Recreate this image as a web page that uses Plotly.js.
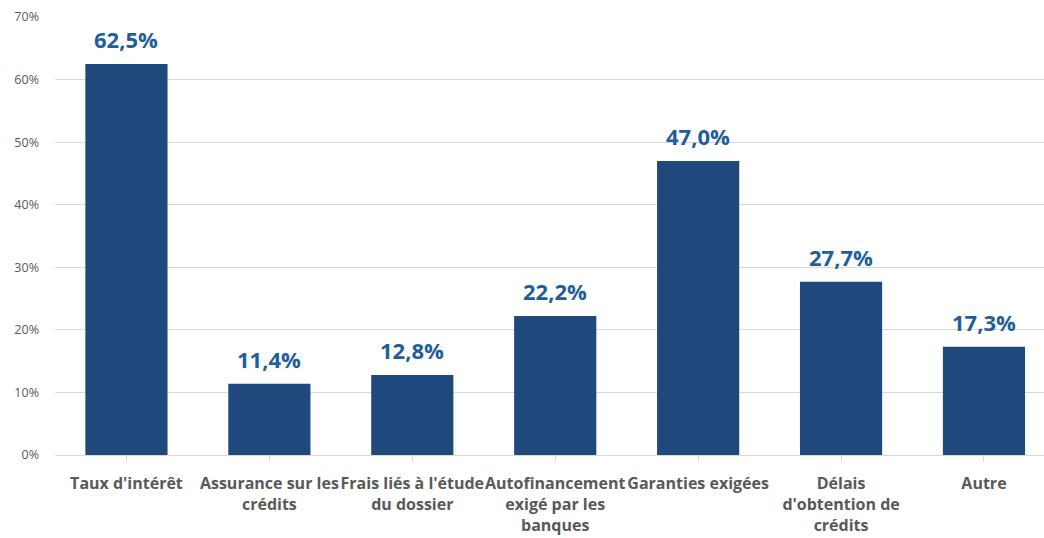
<!DOCTYPE html>
<html>
<head>
<meta charset="utf-8">
<script src="https://cdn.plot.ly/plotly-3.0.1.min.js"></script>
<style>html,body{margin:0;padding:0;background:#fff;}#chart{width:1044px;height:538px;}</style>
</head>
<body>
<div id="chart"></div>
<script>
const categories = ["Taux d'intérêt", "Assurance sur les<br>crédits", "Frais liés à l'étude<br>du dossier", "Autofinancement<br>exigé par les<br>banques", "Garanties exigées", "Délais<br>d'obtention de<br>crédits", "Autre"];
const values = [62.5, 11.4, 12.8, 22.2, 47.0, 27.7, 17.3];
const yTicks = [0, 10, 20, 30, 40, 50, 60, 70];

const labelText = values.map(v => v.toFixed(1).replace('.', ',') + '%');
const xIdx = categories.map((c, i) => i);

const trace = {
  type: 'bar',
  x: xIdx,
  y: values,
  width: 0.575,
  marker: {color: '#1F497D'},
  hoverinfo: 'none'
};

const annotations = values.map((v, i) => ({
  x: i, y: v, xref: 'x', yref: 'y',
  text: labelText[i],
  showarrow: false,
  yanchor: 'bottom',
  yshift: 8,
  font: {family: "'Open Sans', sans-serif", size: 22, color: '#1F5E9C', weight: 'bold'}
}));

const layout = {
  width: 1044, height: 538,
  margin: {l: 55, r: 0, t: 17, b: 83},
  paper_bgcolor: '#ffffff', plot_bgcolor: '#ffffff',
  showlegend: false,
  bargap: 0.4,
  xaxis: {
    range: [-0.5, 6.42],
    tickmode: 'array',
    tickvals: xIdx,
    ticktext: categories.map(c => '<b>' + c + '</b>'),
    ticks: 'outside', tickson: 'boundaries', ticklen: 6, tickcolor: '#d9d9d9',
    showline: true, linecolor: '#d9d9d9', linewidth: 1,
    showgrid: false, zeroline: false,
    ticklabelstandoff: 8,
    tickfont: {family: "'Open Sans', sans-serif", size: 16, color: '#595959'},
    tickangle: 0, automargin: false
  },
  yaxis: {
    range: [0, 70],
    tickmode: 'array',
    tickvals: yTicks,
    ticktext: yTicks.map(t => t + '%'),
    showgrid: true, gridcolor: '#d9d9d9', gridwidth: 1,
    zeroline: false, showline: false,
    ticks: '', ticklabelstandoff: 15,
    tickfont: {family: "'Open Sans', sans-serif", size: 12.5, color: '#595959'},
    automargin: false
  },
  annotations: annotations
};

Plotly.newPlot('chart', [trace], layout, {displayModeBar: false, staticPlot: true});
</script>
</body>
</html>
